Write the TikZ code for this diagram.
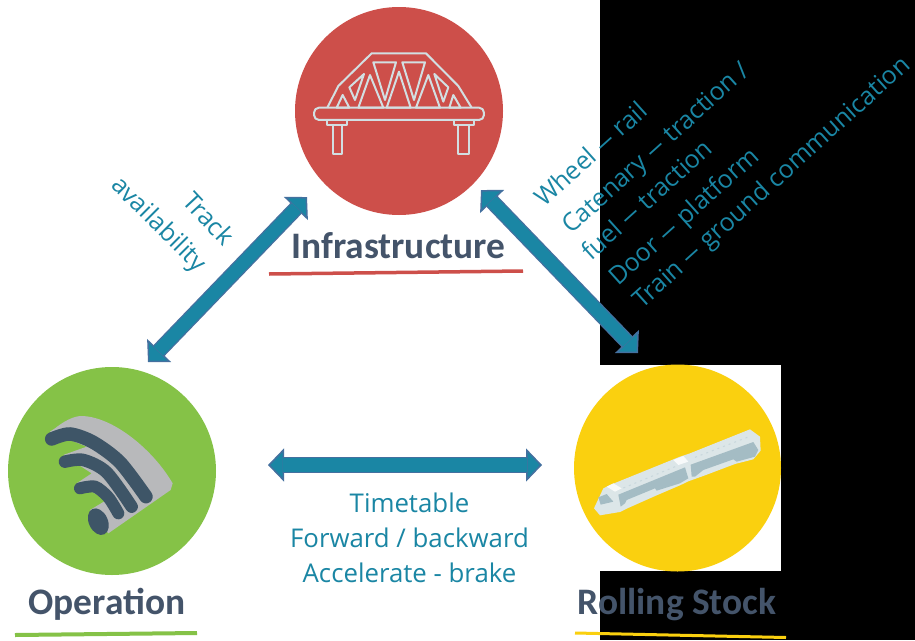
\documentclass[tikz,border=0pt]{standalone}
\usepackage{fontspec}
\setmainfont{Open Sans}
\newfontfamily\titlefont{Carlito}
\usetikzlibrary{arrows.meta,calc}
\definecolor{teal1}{HTML}{1A86A4}
\definecolor{edge1}{HTML}{44709F}
\definecolor{ink1}{HTML}{44546A}
\definecolor{red1}{HTML}{CD4F4A}
\definecolor{green1}{HTML}{85C247}
\definecolor{yellow1}{HTML}{FAD00F}
\definecolor{icon1}{HTML}{D2DFE2}
\definecolor{dark1}{HTML}{3E5567}
\definecolor{grey1}{HTML}{B8B9BB}
\definecolor{trainlight}{HTML}{DCE6E8}
\definecolor{trainside}{HTML}{A4BCC4}
\newcommand{\longdash}{\scalebox{1.5}[1]{–}}
\tikzset{
  disc/.style={circle,minimum size=#1,inner sep=0pt,draw=none},
  linkedge/.style={draw=edge1,line width=#1,
    {Triangle[length=16pt,width=33pt,line width=1.5pt,color=edge1,fill=teal1]}-{Triangle[length=16pt,width=33pt,line width=1.5pt,color=edge1,fill=teal1]}},
  linkcore/.style={draw=teal1,line width=#1-2.6pt,shorten >=15pt,shorten <=15pt},
  title/.style={inner sep=0pt,anchor=base,text=ink1,font=\titlefont\bfseries\fontsize{37.4}{37.4}\selectfont},
  lab/.style={inner sep=0pt,text=teal1,font=\fontsize{25}{25}\selectfont},
  diag/.style={lab,anchor=base west,rotate=42},
  bridge/.style={draw=icon1,line width=2pt,line join=round}
}
\begin{document}
\begin{tikzpicture}[x=1pt,y=-1pt]
\useasboundingbox (0,0) rectangle (915,640);
\fill[white] (0,0) rectangle (915,640);
\fill[black] (600,0) rectangle (915,640);
\fill[white] (600,365) rectangle (781,571);
% discs
\node[disc=208pt,fill=red1] (infra) at (399,111) {};
\node[disc=208pt,fill=green1] (oper) at (112,471) {};
\node[disc=207pt,fill=yellow1] (roll) at (677.5,468) {};
% bridge icon
\begin{scope}[shift={(290,0)},x=0.3333pt,y=-0.3333pt]
\draw[bridge,rounded corners=5pt] (72,323) rectangle (582,360);
\draw[bridge] (112,323) -- (145,258) -- (245,160) -- (408,160) -- (505,258) -- (545,323);
\draw[bridge] (112,360) -- (112,376) -- (172,376) -- (172,360);
\draw[bridge] (130,376) rectangle (157,462);
\draw[bridge] (492,360) -- (492,376) -- (552,376) -- (552,360);
\draw[bridge] (503,376) rectangle (537,462);
\draw[bridge] (250,187) -- (318,187) -- (285,300) -- cycle;
\draw[bridge] (337,187) -- (405,187) -- (372,300) -- cycle;
\draw[bridge] (327,215) -- (290,323) -- (362,323) -- cycle;
\draw[bridge] (240,225) -- (205,323) -- (280,323) -- cycle;
\draw[bridge] (415,225) -- (378,323) -- (450,323) -- cycle;
\draw[bridge] (222,222) -- (178,262) -- (195,300) -- cycle;
\draw[bridge] (433,222) -- (475,262) -- (460,305) -- cycle;
\draw[bridge] (158,285) -- (140,323) -- (178,323) -- cycle;
\draw[bridge] (490,285) -- (478,323) -- (512,323) -- cycle;
\end{scope}
% wifi icon
\begin{scope}[shift={(0,360)},x=0.3333pt,y=-0.3333pt]
\fill[grey1] (165,205) .. controls (190,185) and (220,168) .. (245,168)
  .. controls (340,170) and (460,270) .. (518,370)
  -- (512,390) -- (325,520) -- (270,450) -- (320,420) -- (230,370) -- (275,340)
  -- (190,285) -- (260,260) -- (150,215) -- cycle;
\draw[dark1,line width=13.5pt,line cap=round] plot[smooth] coordinates {(155,237) (210,222) (280,247) (360,307) (438,410)};
\draw[dark1,line width=12.5pt,line cap=round] plot[smooth] coordinates {(195,305) (250,300) (320,337) (395,440)};
\draw[dark1,line width=12pt,line cap=round] plot[smooth] coordinates {(240,385) (285,380) (325,412) (355,460)};
\fill[dark1,rotate around={25:(295,485)}] (295,485) ellipse [x radius=9.5pt,y radius=14pt];
\end{scope}
% train icon
\begin{scope}[shift={(590,420)},x=0.3333pt,y=-0.3333pt]
\fill[trainlight] (12,265) -- (30,286) -- (90,276) -- (110,266) -- (200,226) -- (270,196) -- (295,184) -- (345,166) -- (435,132)
  -- (490,118) -- (512,92) -- (510,50) -- (480,28) -- (300,100) -- (270,110) -- (60,195) -- (40,205) -- cycle;
\fill[trainside] (85,224) -- (285,142) -- (295,175) -- (270,190) -- (200,212) -- (195,205) -- (110,240) -- (105,250) -- (92,260) -- cycle;
\fill[trainside] (302,134) -- (490,66) -- (505,90) -- (495,110) -- (440,125) -- (430,118) -- (340,150) -- (315,170) -- (305,170) -- cycle;
\fill[trainside] (25,232) -- (50,222) -- (70,245) -- (32,254) -- cycle;
\draw[trainside!60!white,line width=1pt,dash pattern=on 2pt off 4pt] (100,204) -- (265,136);
\draw[trainside!60!white,line width=1pt,dash pattern=on 2pt off 4pt] (315,112) -- (480,49);
\fill[white!80!trainlight] (50,200) -- (70,190) -- (95,205) -- (75,215) -- cycle;
\fill[white!80!trainlight] (250,120) -- (280,108) -- (295,125) -- (265,135) -- cycle;
\end{scope}
% titles
\node[title] (tinfra) at (398.5,258) {Infrastructure};
\node[title] (toper) at (107,614.5) {Operation};
\node[title] (troll) at (677,614) {Rolling Stock};
% underlines
\coordinate (u1a) at (269,274); \coordinate (u1b) at (523,271);
\coordinate (u2a) at (15,635); \coordinate (u2b) at (197,633);
\coordinate (u3a) at (575,633); \coordinate (u3b) at (786,637.5);
\draw[red1,line width=3.5pt] (u1a) -- (u1b);
\draw[green1,line width=4pt] (u2a) -- (u2b);
\draw[yellow1,line width=3pt] (u3a) -- (u3b);
% arrows
\coordinate (a1) at (307,197); \coordinate (a2) at (148,362);
\coordinate (b1) at (481,190); \coordinate (b2) at (638,353);
\coordinate (c1) at (268,465); \coordinate (c2) at (542,465);
\foreach \p/\q/\w in {a1/a2/15.5pt,b1/b2/15.5pt,c1/c2/16.5pt}{
  \draw[linkedge=\w] (\p) -- (\q);
  \draw[linkcore=\w] (\p) -- (\q);
}
% labels
\node[lab,rotate=-47] (ltrack) at (209,218) {Track};
\node[lab,rotate=-45] (lavail) at (158,225) {availability};
\node[lab,align=center,anchor=north,font=\fontsize{25.8}{35}\selectfont] (ltime) at (409.5,493) {Timetable\\Forward / backward\\Accelerate - brake};
\node[diag] (d1) at (544,208) {Wheel \longdash{} rail};
\node[diag] (d2) at (571,235) {Catenary \longdash{} traction /};
\node[diag] (d3) at (591,262) {fuel \longdash{} traction};
\node[diag] (d4) at (618,287) {Door \longdash{} platform};
\node[diag] (d5) at (642,310) {Train \longdash{} ground communication};
\end{tikzpicture}
\end{document}
